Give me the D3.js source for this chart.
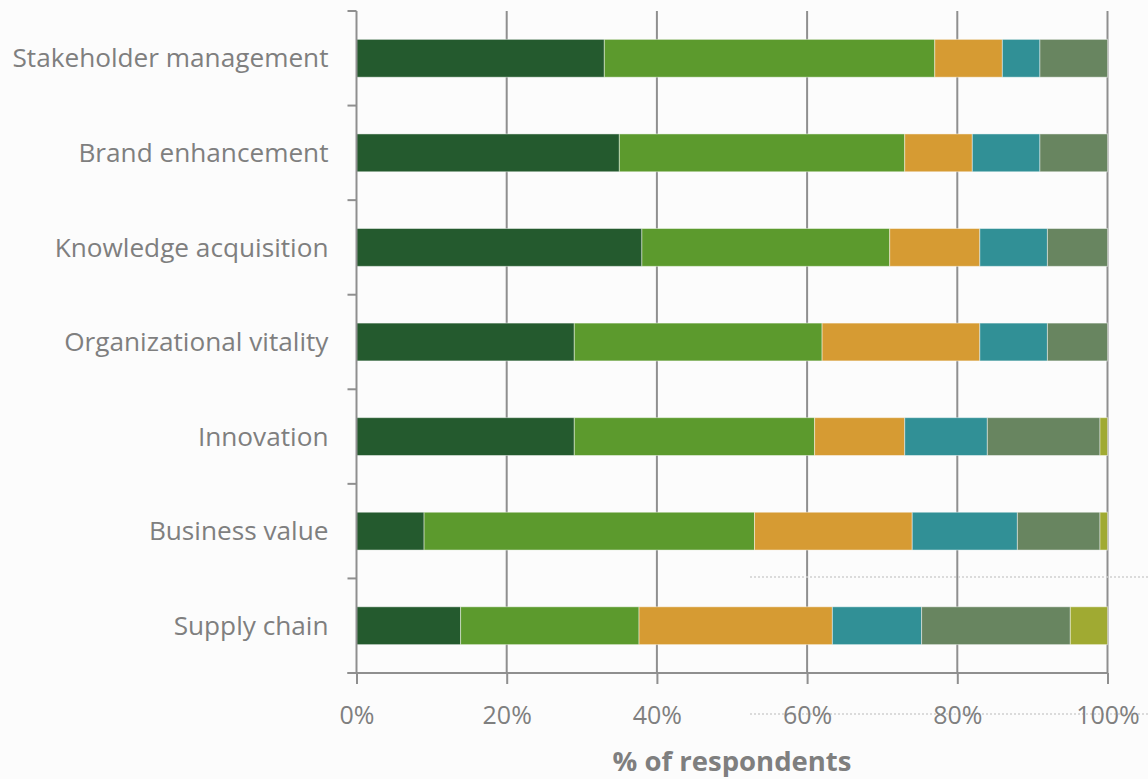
<!DOCTYPE html>
<html>
<head>
<meta charset="utf-8">
<script src="https://cdn.jsdelivr.net/npm/d3@7"></script>
<style>
  html, body { margin: 0; padding: 0; background: #fcfcfc; }
  svg { display: block; }
  text { font-family: "Open Sans", "Noto Sans", sans-serif; fill: #7f7f7f; }
</style>
</head>
<body>
<script>
// Categories, top to bottom
const categories = [
  "Stakeholder management",
  "Brand enhancement",
  "Knowledge acquisition",
  "Organizational vitality",
  "Innovation",
  "Business value",
  "Supply chain"
];

// Response shares per category (percent), one array per response group
const group1 = [33, 35, 38, 29, 29, 9, 14];
const group2 = [44, 38, 33, 33, 32, 44, 24];
const group3 = [9, 9, 12, 21, 12, 21, 26];
const group4 = [5, 9, 9, 9, 11, 14, 12];
const group5 = [9, 9, 8, 8, 15, 11, 20];
const group6 = [0, 0, 0, 0, 1, 1, 5];

const groupColors = ["#245a2e", "#5c9a2d", "#d69b33", "#319096", "#688560", "#a0aa32"];
const xTickValues = [0, 0.2, 0.4, 0.6, 0.8, 1];

const W = 1148, H = 779;
const margin = { left: 356.5, right: 40.5, top: 11, bottom: 106 };

const groups = [group1, group2, group3, group4, group5, group6];
const keys = groups.map((_, i) => "g" + i);
const rows = categories.map((c, r) => {
  const o = { category: c };
  groups.forEach((g, i) => { o[keys[i]] = g[r]; });
  return o;
});

const stacked = d3.stack().keys(keys).offset(d3.stackOffsetExpand)(rows);

const svg = d3.select("body").append("svg").attr("width", W).attr("height", H);

const x = d3.scaleLinear().domain([0, 1]).range([margin.left, W - margin.right]);
const y = d3.scaleBand().domain(categories).range([margin.top, H - margin.bottom])
  .paddingInner(0.6).paddingOuter(0.3);
const yEdges = d3.scaleBand().domain(categories).range([margin.top, H - margin.bottom]);

// Vertical gridlines
svg.append("g").selectAll("line")
  .data(xTickValues.slice(1))
  .join("line")
  .attr("x1", d => x(d)).attr("x2", d => x(d))
  .attr("y1", margin.top).attr("y2", H - margin.bottom)
  .attr("stroke", "#8f8f8f").attr("stroke-width", 2);

// Stacked bars
svg.append("g").selectAll("g")
  .data(stacked)
  .join("g")
  .attr("fill", (d, i) => groupColors[i])
  .selectAll("rect")
  .data(d => d.filter(s => s[1] - s[0] > 0))
  .join("rect")
  .attr("x", d => x(d[0]))
  .attr("width", d => x(d[1]) - x(d[0]))
  .attr("y", d => y(d.data.category))
  .attr("height", y.bandwidth())
  .attr("stroke", "rgba(255,255,255,0.45)")
  .attr("stroke-width", 1);

// Dotted guide lines on the right
const dotted = [{ y: 577, x0: 750 }, { y: 714, x0: 750 }];
svg.append("g").selectAll("line")
  .data(dotted)
  .join("line")
  .attr("x1", d => d.x0).attr("x2", W)
  .attr("y1", d => d.y).attr("y2", d => d.y)
  .attr("stroke", "#cfcfcf").attr("stroke-width", 1.5)
  .attr("stroke-dasharray", "2,2");

// Y axis: line with ticks on category boundaries
const yAxisG = svg.append("g");
yAxisG.append("line")
  .attr("x1", margin.left).attr("x2", margin.left)
  .attr("y1", margin.top).attr("y2", H - margin.bottom)
  .attr("stroke", "#8f8f8f").attr("stroke-width", 2);
const edges = categories.map(c => yEdges(c)).concat([H - margin.bottom]);
yAxisG.selectAll("line.tick")
  .data(edges)
  .join("line")
  .attr("class", "tick")
  .attr("x1", margin.left - 9).attr("x2", margin.left)
  .attr("y1", d => d).attr("y2", d => d)
  .attr("stroke", "#8f8f8f").attr("stroke-width", 2);

// Category labels
yAxisG.selectAll("text")
  .data(categories)
  .join("text")
  .attr("x", margin.left - 28)
  .attr("y", d => y(d) + y.bandwidth() / 2)
  .attr("dy", "0.35em")
  .attr("text-anchor", "end")
  .attr("font-size", 26.2)
  .text(d => d);

// X axis
const xAxis = d3.axisBottom(x)
  .tickValues(xTickValues)
  .tickFormat(d3.format(".0%"))
  .tickSize(11)
  .tickPadding(22)
  .tickSizeOuter(0);
const xAxisG = svg.append("g")
  .attr("transform", `translate(0,${H - margin.bottom})`)
  .call(xAxis);
xAxisG.select(".domain").remove();
xAxisG.insert("line", ":first-child")
  .attr("x1", margin.left - 9).attr("x2", x(1))
  .attr("y1", 0).attr("y2", 0)
  .attr("stroke", "#8f8f8f").attr("stroke-width", 2);
xAxisG.selectAll(".tick line").attr("stroke", "#8f8f8f").attr("stroke-width", 2);
xAxisG.selectAll(".tick text")
  .attr("font-size", 25)
  .attr("font-family", "'Open Sans', sans-serif")
  .attr("fill", "#7f7f7f");

// Axis title
svg.append("text")
  .attr("x", (x(0) + x(1)) / 2)
  .attr("y", 771)
  .attr("text-anchor", "middle")
  .attr("font-size", 27.5)
  .attr("font-weight", "bold")
  .attr("fill", "#7a7a7a")
  .text("% of respondents");
</script>
</body>
</html>
